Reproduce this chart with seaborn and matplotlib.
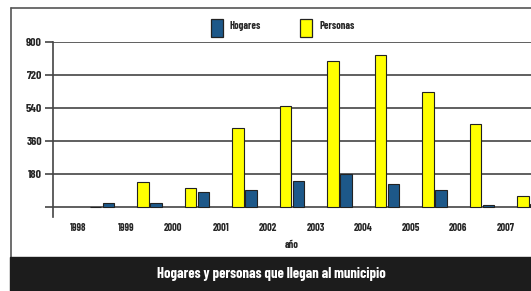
import pandas as pd
import seaborn as sns
import matplotlib.pyplot as plt
from matplotlib.patches import Rectangle

# datos (cada grupo queda a la derecha de su etiqueta de año)
anios = ["1998", "1999", "2000", "2001", "2002", "2003", "2004", "2005", "2006", "2007"]
hogares = [22, 20, 82, 91, 144, 180, 124, 93, 8, 15]
personas = [0, 135, 102, 429, 551, 798, 829, 625, 451, 62]
yticks = [0, 180, 360, 540, 720, 900]

df = pd.DataFrame({
    "anio": anios * 2,
    "valor": personas + hogares,
    "serie": ["Personas"] * len(anios) + ["Hogares"] * len(anios),
})

sns.set_style("white")
plt.rcParams["font.family"] = ["Barlow Condensed", "Archivo Narrow", "DejaVu Sans"]
plt.rcParams["font.weight"] = "bold"
plt.rcParams["axes.labelweight"] = "bold"

fig = plt.figure(figsize=(5.31, 2.91), dpi=100)
ax = fig.add_axes([53 / 531, 74 / 291, 1 - 53 / 531, 175 / 291])

colores = {"Personas": "#FFFF00", "Hogares": "#1D5889"}
sns.barplot(data=df, x="anio", y="valor", hue="serie", order=anios,
            hue_order=["Personas", "Hogares"], palette=colores, saturation=1,
            width=0.55, gap=0.1, edgecolor="#222222", linewidth=0.8,
            ax=ax, legend=False)

ax.set_xlim(-1.03, 9.03)
ax.set_ylim(-55, 900)
ax.set_yticks(yticks)
ax.set_yticklabels([""] + [str(v) for v in yticks[1:]], fontsize=8.5)
ax.set_xticks([i - 0.5 for i in range(len(anios))])
ax.set_xticklabels(anios, fontsize=7.5)
ax.tick_params(axis="x", length=0, pad=4)
ax.tick_params(axis="y", length=6, width=1.2, color="#444444", pad=2, left=True)
for v in yticks:
    ax.axhline(v, color="#444444", lw=1.2, zorder=0)
for s in ["top", "right", "bottom"]:
    ax.spines[s].set_visible(False)
ax.spines["left"].set_color("#444444")
ax.spines["left"].set_linewidth(1.2)
ax.set_xlabel("año", fontsize=7.5, labelpad=5)
ax.set_ylabel("")

# marco exterior y barra del titulo
fig.add_artist(plt.Line2D([10.5 / 531, 1], [1 - 7.5 / 291] * 2, color="#555555", lw=1.2))
fig.add_artist(plt.Line2D([10.5 / 531] * 2, [0, 1 - 7.5 / 291], color="#555555", lw=1.2))
fig.add_artist(Rectangle((10 / 531, 0), 1, 34 / 291, color="#1c1c1c", zorder=5))
fig.text(271 / 531, 17 / 291, "Hogares y personas que llegan al municipio",
         color="white", fontsize=10.5, ha="center", va="center", zorder=6)

# leyenda
for x0, serie in [(211, "Hogares"), (300, "Personas")]:
    fig.add_artist(Rectangle((x0 / 531, 1 - 37 / 291), 12 / 531, 18 / 291,
                             facecolor=colores[serie], edgecolor="#222222", lw=0.9))
    fig.text((x0 + 19) / 531, 1 - 26 / 291, serie, fontsize=7.5, va="center")

fig.savefig("out.png", dpi=100)
